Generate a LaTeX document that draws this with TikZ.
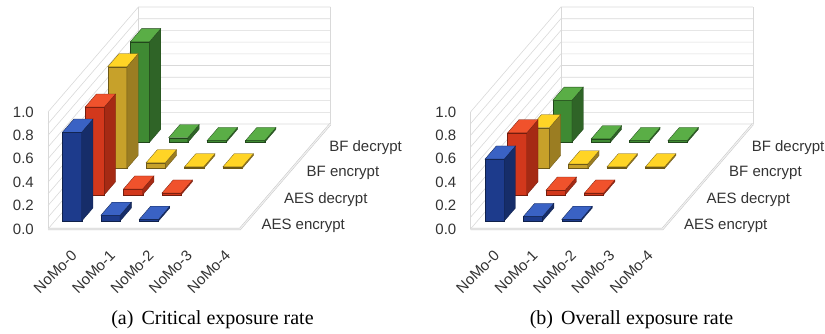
\documentclass[tikz,border=0pt]{standalone}
\usepackage{fontspec}
\setmainfont{Liberation Serif}
\newfontfamily\chartfont{Liberation Sans}
\usetikzlibrary{positioning}

% bar colours: top, front and side face of each series
\definecolor{bluetop}{HTML}{3A62C4}
\definecolor{bluefront}{HTML}{1D3B8C}
\definecolor{blueside}{HTML}{162D69}
\definecolor{redtop}{HTML}{F0522C}
\definecolor{redfront}{HTML}{D2381C}
\definecolor{redside}{HTML}{A52A14}
\definecolor{yellowtop}{HTML}{FFD426}
\definecolor{yellowfront}{HTML}{C7A12A}
\definecolor{yellowside}{HTML}{9B7D22}
\definecolor{greentop}{HTML}{5AAE46}
\definecolor{greenfront}{HTML}{3F8A33}
\definecolor{greenside}{HTML}{2F6427}

\tikzset{
  grid line/.style={draw=gray!30, line width=0.6pt},
  floor line/.style={draw=gray!45, line width=0.5pt, double=gray!12, double distance=1.2pt},
  chart text/.style={font=\chartfont\fontsize{15}{15}\selectfont, text=black!80, inner sep=0pt},
  value label/.style={chart text, anchor=east},
  row label/.style={chart text, anchor=west},
  col label/.style={chart text, rotate=45, anchor=east},
  caption/.style={font=\fontsize{20}{20}\selectfont, anchor=base},
  chart axes/.style={x={(38.4pt,0pt)}, y={(22.6pt,26.25pt)}, z={(0pt,117pt)}}
}

% one 3d bar: column, row, value, series colour
\newcommand{\barbox}[4]{%
  \pgfmathsetmacro{\ca}{#1+0.2}\pgfmathsetmacro{\cb}{#1+0.7}%
  \pgfmathsetmacro{\ra}{#2+0.3}\pgfmathsetmacro{\rb}{#2+0.8}%
  \filldraw[fill=#4front, draw=#4side!70!black, line width=0.3pt]
    (\ca,\ra,0) -- (\cb,\ra,0) -- (\cb,\ra,#3) -- (\ca,\ra,#3) -- cycle;
  \filldraw[fill=#4side, draw=#4side!70!black, line width=0.3pt]
    (\cb,\ra,0) -- (\cb,\rb,0) -- (\cb,\rb,#3) -- (\cb,\ra,#3) -- cycle;
  \filldraw[fill=#4top, draw=#4side!70!black, line width=0.3pt]
    (\ca,\ra,#3) -- (\cb,\ra,#3) -- (\cb,\rb,#3) -- (\ca,\rb,#3) -- cycle;
}

% walls, floor and axis labels of one chart, node names prefixed by #1
\newcommand{\chartframe}[1]{%
  \foreach \k in {0,...,10}
    \draw[grid line] (0,0,\k/10) -- (0,4,\k/10) -- (5,4,\k/10);
  \draw[grid line] (0,0,0) -- (0,0,1);
  \draw[grid line] (0,4,0) -- (0,4,1);
  \draw[grid line] (5,4,0) -- (5,4,1);
  \draw[floor line] (0,0,0) -- (5,0,0) -- (5,4,0);
  \foreach \k/\t in {0/0.0, 2/0.2, 4/0.4, 6/0.6, 8/0.8, 10/1.0}
    \node[value label, xshift=-14pt] (#1-v\k) at (0,0,\k/10) {\t};
  \foreach \k/\t in {0/AES encrypt, 1/AES decrypt, 2/BF encrypt, 3/BF decrypt}
    \node[row label, xshift=10pt, yshift=-10pt] (#1-r\k) at (5,\k+0.5,0) {\t};
  \foreach \k in {0,...,4}
    \node[xshift=7pt, yshift=-24pt, col label] (#1-c\k) at (\k+0.5,0,0) {NoMo-\k};
}

\begin{document}
\begin{tikzpicture}[x=1pt, y=1pt]
  \path[use as bounding box] (0,0) rectangle (825,333);

  % (a) critical exposure rate
  \begin{scope}[shift={(48pt,104pt)}, chart axes]
    \chartframe{a}
    \barbox{0}{3}{0.86}{green}
    \barbox{1}{3}{0.04}{green}
    \barbox{2}{3}{0.015}{green}
    \barbox{3}{3}{0.015}{green}
    \barbox{0}{2}{0.87}{yellow}
    \barbox{1}{2}{0.05}{yellow}
    \barbox{2}{2}{0.015}{yellow}
    \barbox{3}{2}{0.015}{yellow}
    \barbox{0}{1}{0.75}{red}
    \barbox{1}{1}{0.05}{red}
    \barbox{2}{1}{0.015}{red}
    \barbox{0}{0}{0.76}{blue}
    \barbox{1}{0}{0.05}{blue}
    \barbox{2}{0}{0.015}{blue}
  \end{scope}

  % (b) overall exposure rate
  \begin{scope}[shift={(470.5pt,104pt)}, chart axes]
    \chartframe{b}
    \barbox{0}{3}{0.36}{green}
    \barbox{1}{3}{0.03}{green}
    \barbox{2}{3}{0.015}{green}
    \barbox{3}{3}{0.015}{green}
    \barbox{0}{2}{0.35}{yellow}
    \barbox{1}{2}{0.04}{yellow}
    \barbox{2}{2}{0.015}{yellow}
    \barbox{3}{2}{0.015}{yellow}
    \barbox{0}{1}{0.53}{red}
    \barbox{1}{1}{0.04}{red}
    \barbox{2}{1}{0.015}{red}
    \barbox{0}{0}{0.53}{blue}
    \barbox{1}{0}{0.04}{blue}
    \barbox{2}{0}{0.015}{blue}
  \end{scope}

  \node[caption] (capa) at (212.5,9) {(a)\hskip0.4em Critical exposure rate};
  \node[caption] (capb) at (631.5,9) {(b)\hskip0.4em Overall exposure rate};
\end{tikzpicture}
\end{document}
